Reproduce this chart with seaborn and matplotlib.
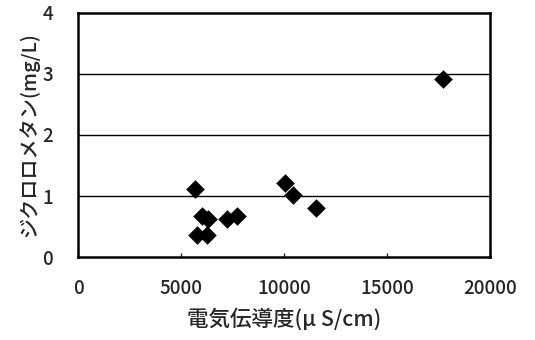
import matplotlib
matplotlib.use("Agg")
import matplotlib.pyplot as plt
import seaborn as sns
import pandas as pd

# --- DATA ---
conductivity = [5680, 6020, 6310, 5760, 6260, 7230, 7720, 10050, 10440, 11550, 17720]
dcm = [1.12, 0.68, 0.63, 0.36, 0.36, 0.63, 0.67, 1.22, 1.01, 0.81, 2.92]
x_ticks = [0, 5000, 10000, 15000, 20000]
y_ticks = [0, 1, 2, 3, 4]
x_label = "電気伝導度(μ S/cm)"
y_label = "ジクロロメタン(mg/L)"

df = pd.DataFrame({"ec": conductivity, "dcm": dcm})

sns.set_style("white")
plt.rcParams["font.family"] = ["Noto Sans CJK JP", "DejaVu Sans"]

fig = plt.figure(figsize=(5.35, 3.4), dpi=100)
ax = fig.add_axes([0.146, 0.244, 0.77, 0.718])

for yv in y_ticks[1:-1]:
    ax.axhline(yv, color="black", lw=1.0, zorder=1)

sns.scatterplot(data=df, x="ec", y="dcm", marker="D", s=90, color="black",
                edgecolor="black", linewidth=0, ax=ax, zorder=3)

ax.set_xlim(0, 20000)
ax.set_ylim(0, 4)
ax.set_xticks(x_ticks)
ax.set_yticks(y_ticks)
ax.set_xticklabels([str(v) for v in x_ticks], fontsize=13.5, fontweight="medium")
ax.set_yticklabels([str(v) for v in y_ticks], fontsize=13.5, fontweight="medium")
ax.tick_params(axis="x", direction="in", length=3, width=1, pad=16, bottom=True)
ax.tick_params(axis="y", length=0, pad=18)

for sp in ax.spines.values():
    sp.set_color("black")
    sp.set_linewidth(1.8)

ax.set_xlabel(x_label, fontsize=15.5, fontweight="medium", labelpad=7)
ax.set_ylabel(y_label, fontsize=14.5, fontweight="medium", labelpad=2)

fig.savefig("out.png", dpi=100)
